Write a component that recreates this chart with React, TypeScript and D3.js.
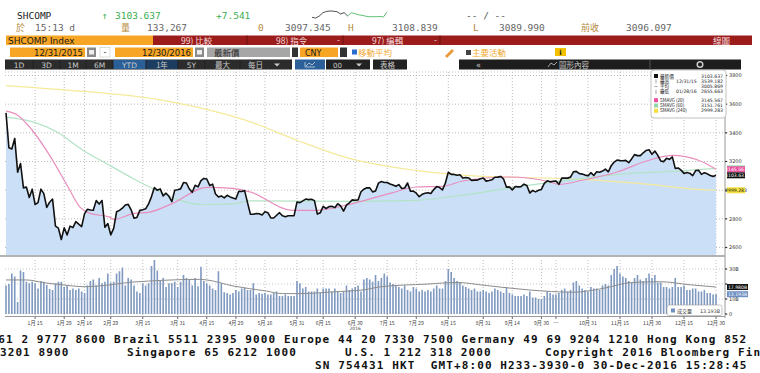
import * as d3 from 'd3';

const pad = (n: number) => String(n).padStart(2, '0');

// trading sessions of 2016 (day of month, per month)
const sessionDays: number[][] = [
  [4, 5, 6, 7, 8, 11, 12, 13, 14, 15, 18, 19, 20, 21, 22, 25, 26, 27, 28, 29],
  [1, 2, 3, 4, 5, 15, 16, 17, 18, 19, 22, 23, 24, 25, 26, 29],
  [1, 2, 3, 4, 7, 8, 9, 10, 11, 14, 15, 16, 17, 18, 21, 22, 23, 24, 25, 28, 29, 30, 31],
  [1, 5, 6, 7, 8, 11, 12, 13, 14, 15, 18, 19, 20, 21, 22, 25, 26, 27, 28, 29],
  [3, 4, 5, 6, 9, 10, 11, 12, 13, 16, 17, 18, 19, 20, 23, 24, 25, 26, 27, 30, 31],
  [1, 2, 3, 6, 7, 8, 13, 14, 15, 16, 17, 20, 21, 22, 23, 24, 27, 28, 29, 30],
  [1, 4, 5, 6, 7, 8, 11, 12, 13, 14, 15, 18, 19, 20, 21, 22, 25, 26, 27, 28, 29],
  [1, 2, 3, 4, 5, 8, 9, 10, 11, 12, 15, 16, 17, 18, 19, 22, 23, 24, 25, 26, 29, 30, 31],
  [1, 2, 5, 6, 7, 8, 9, 12, 13, 14, 19, 20, 21, 22, 23, 26, 27, 28, 29, 30],
  [10, 11, 12, 13, 14, 17, 18, 19, 20, 21, 24, 25, 26, 27, 28, 31],
  [1, 2, 3, 4, 7, 8, 9, 10, 11, 14, 15, 16, 17, 18, 21, 22, 23, 24, 25, 28, 29, 30],
  [1, 2, 5, 6, 7, 8, 9, 12, 13, 14, 15, 16, 19, 20, 21, 22, 23, 26, 27, 28, 29, 30],
];
const tradingDates = [
  '2015-12-31',
  ...sessionDays.flatMap((days, m) => days.map(d => `2016-${pad(m + 1)}-${pad(d)}`)),
];

const closes = [
  3539.2,
  3296, 3287, 3361, 3125, 3186, 3016, 3022, 2949, 3007, 2900, 2913, 3007, 2976, 2880, 2916, 2938, 2749, 2735, 2655.7, 2737,
  2688, 2749, 2739, 2781, 2763, 2746, 2836, 2867, 2862, 2860, 2927, 2903, 2928, 2741, 2767, 2688,
  2733, 2849, 2859, 2874, 2897, 2901, 2863, 2804, 2810, 2859, 2864, 2870, 2904, 2955, 3018, 2999, 3009, 2960, 2979, 2957, 2920, 3000, 3003,
  3009, 3053, 3050, 3008, 2985, 3034, 3023, 3066, 3082, 3078, 3033, 3042, 2973, 2953, 2960, 2946, 2964, 2953, 2945, 2938,
  2992, 2991, 2997, 2913, 2832, 2832, 2837, 2835, 2827, 2850, 2843, 2807, 2806, 2825, 2843, 2821, 2815, 2822, 2822, 2822, 2917,
  2913, 2925, 2938, 2934, 2937, 2927, 2833, 2842, 2887, 2872, 2885, 2888, 2878, 2905, 2891, 2854, 2895, 2912, 2932, 2930,
  2932, 2989, 3007, 3017, 3016, 2988, 2994, 3049, 3060, 3054, 3054, 3043, 3036, 3027, 3039, 3012, 3015, 3050, 2992, 2994, 2979,
  2954, 2971, 2978, 2982, 2977, 3004, 3025, 3018, 3002, 3050, 3125, 3110, 3110, 3104, 3108, 3085, 3089, 3085, 3068, 3070, 3070, 3080, 3085,
  3063, 3067, 3072, 3090, 3091, 3096, 3078, 3021, 3023, 3002, 3026, 3023, 3025, 3042, 3033, 2980, 2998, 2988, 2999, 3005,
  3048, 3065, 3058, 3062, 3064, 3041, 3084, 3085, 3084, 3091, 3128, 3131, 3116, 3112, 3105, 3100,
  3122, 3102, 3128, 3125, 3133, 3147, 3128, 3171, 3196, 3210, 3206, 3205, 3208, 3192, 3218, 3248, 3241, 3241, 3261, 3277, 3282, 3250,
  3273, 3243, 3204, 3199, 3222, 3215, 3232, 3152, 3155, 3140, 3117, 3123, 3118, 3102, 3137, 3139, 3110, 3122, 3114, 3102, 3096.1, 3103.6,
];

// daily volume, billions of shares
const volumes = [
  19, 20, 27, 25, 8, 29, 28, 21.5, 20.5, 21.5, 20.5, 17, 22, 21.5, 19.3, 16.7, 16, 20.5, 21.5, 21.5,
  18, 19, 16, 17, 16, 17, 15, 14, 19, 22, 23, 19, 24, 20.5, 21.5, 27, 21, 21.5,
  27, 28.5, 31, 19, 24, 23, 19, 15, 14, 20.5, 19, 20.5,
  32, 36, 29, 22, 24, 18, 20.5, 20.5, 21.5, 18, 21.5, 26, 24, 23, 19, 24, 18.5, 31.5, 22, 20.5,
  19, 17, 16, 28.5, 20.5, 14.5, 14, 13, 14, 16, 15, 17, 17.5, 16, 16, 20.5, 13, 14, 13.5, 14,
  13, 13, 14, 15, 12, 12, 13, 12, 12, 12,
  22, 20.5, 17, 18, 15, 15, 15, 17, 14, 17, 17, 17, 15, 17, 15, 14, 15, 19, 16, 17, 18, 19, 15, 23, 24, 23, 21.5, 26,
  22, 24, 27, 25, 21, 20, 19, 18, 17, 19, 16, 15, 18, 17,
  15, 16, 15, 16, 15, 17, 19, 17, 17, 22, 30, 28, 24, 22, 21, 19, 18, 17, 16, 17, 15, 15, 16,
  15, 14, 15, 17, 16, 15, 14, 18, 14, 13, 12, 12, 12, 13, 12, 15, 11, 11, 10, 10,
  12, 15, 14, 13, 13, 14, 16, 17, 15, 16, 21, 22, 19, 17, 16, 15,
  18, 17, 17, 16, 19, 20, 19, 26, 30, 32, 27, 25, 24, 22, 21, 24, 26, 23, 22, 24, 27, 24,
  26, 21, 21, 18, 18, 17, 18, 24, 18, 18, 19, 16, 16, 17, 17, 15, 15, 16, 14, 14, 13, 13.19,
];

// moving averages: [session index, value]
const sma20: [number, number][] = [
  [0, 3551], [4, 3523], [9, 3418], [15, 3243], [21, 3034], [25.4, 2882], [28.8, 2838], [35.7, 2812], [37, 2795],
  [43.6, 2836], [49.4, 2847], [57.3, 2908], [69, 3020], [78, 3013], [84, 2987], [98.5, 2859], [106.7, 2859],
  [118, 2901], [132, 2978], [141, 3022], [150, 3027], [157, 3064], [173, 3092], [187, 3057], [190, 3040],
  [198, 3069], [210, 3127], [221, 3209], [229, 3243], [238, 3209], [244, 3145.6],
];
const sma60: [number, number][] = [
  [0, 3509], [9.3, 3476], [17.5, 3406], [26.4, 3279], [35.7, 3173], [43.6, 3082], [51.8, 2998], [59.7, 2929],
  [66.6, 2900], [78, 2904], [84, 2925], [118, 2922], [141, 2929], [155, 2960], [175, 3020], [198, 3082],
  [215, 3117], [232, 3135], [244, 3151.8],
];
const sma240: [number, number][] = [
  [0, 3730], [20, 3700], [54, 3626], [84, 3476], [100, 3348], [118, 3222], [141, 3138], [164, 3096],
  [187, 3084], [198, 3075], [221, 3040], [238, 3005], [244, 2999.3],
];
const volumeAvg: [number, number][] = [
  [0, 22.7], [7, 22.7], [13, 20.9], [21, 19.1], [26.5, 18.2], [32, 18.7], [43.6, 21.3], [49.4, 22], [66.6, 23.1],
  [69, 22.7], [78, 18.7], [89.5, 15.3], [95, 13.6], [101, 13.6], [112, 14.7], [124, 16.4], [128, 18], [145, 20],
  [155, 21], [165, 19], [180, 16], [195, 14.5], [205, 17], [215, 21], [225, 21.5], [235, 19.5], [244, 17.98],
];

const priceTicks = [2600, 2800, 3000, 3200, 3400, 3600, 3800];
// 3000 and 20B sit behind the last-value tags, so they get no label
const priceTickLabels = ['2600', '2800', '', '3200', '3400', '3600', '3800'];
const volumeTicks = [0, 10, 20, 30];
const volumeTickLabels = ['0', '10B', '', '30B'];

const axisDates = [
  '2016-01-15', '2016-01-29', '2016-02-16', '2016-02-29', '2016-03-15', '2016-03-31', '2016-04-15', '2016-04-29',
  '2016-05-16', '2016-05-31', '2016-06-15', '2016-06-30', '2016-07-15', '2016-07-29', '2016-08-15', '2016-08-31',
  '2016-09-14', '2016-09-30', '2016-10-14', '2016-10-31', '2016-11-15', '2016-11-30', '2016-12-15', '2016-12-30',
];
const axisLabels = [
  '1月 15', '1月 29', '2月 16', '2月 29', '3月 15', '3月 31', '4月 15', '4月 29', '5月 16', '5月 31', '6月 15', '6月 30',
  '7月 15', '7月 29', '8月 15', '8月 31', '9月 14', '9月 30', '…', '10月 31', '11月 15', '11月 30', '12月 15', '12月 30',
];

const legendRows = [
  { mark: 'sq', color: '#111', label: '最新價', date: '', value: '3103.637' },
  { mark: 'bar', color: '#666', label: '最高', date: '12/31/15', value: '3539.182' },
  { mark: 'dash', color: '#666', label: '平均', date: '', value: '3005.869' },
  { mark: 'bar', color: '#666', label: '最低', date: '01/28/16', value: '2655.663' },
  { mark: 'sq', color: '#ec4fa0', label: 'SMAVG (20)', date: '', value: '3145.567' },
  { mark: 'sq', color: '#8fd9a8', label: 'SMAVG (60)', date: '', value: '3151.761' },
  { mark: 'sq', color: '#f5e13c', label: 'SMAVG (240)', date: '', value: '2999.283' },
];

const sparkPrices = [
  3093.9, 3092.5, 3096, 3102, 3104.5, 3105.4, 3105, 3104.1, 3100, 3102.3, 3096.3,
  3102.3, 3100.5, 3098.5, 3097.5, 3096, 3095, 3095, 3095, 3095.5, 3094.5, 3103.5,
];

const rangeButtons = ['1D', '3D', '1M', '6M', 'YTD', '1年', '5Y', '最大'];

const footerLines = [
  'Australia 61 2 9777 8600 Brazil 5511 2395 9000 Europe 44 20 7330 7500 Germany 49 69 9204 1210 Hong Kong 852',
  'SN 754431 HKT  GMT+8:00 H233-3930-0 30-Dec-2016 15:28:45',
];

const mono = '"DejaVu Sans Mono", monospace';
const cjk = '"Noto Sans CJK TC", "DejaVu Sans", sans-serif';
const sans = '"DejaVu Sans", "Noto Sans CJK TC", sans-serif';
const nbsp = (s: string) => s.replace(/ /g, '\u00a0');

export default function App() {
  const n = tradingDates.length;
  const x = d3.scaleLinear().domain([0, n - 1]).range([6, 716]);
  const y = d3.scaleLinear().domain([2600, 3800]).range([247.5, 75.5]);
  const yv = d3.scaleLinear().domain([0, 30]).range([314, 269]);

  const area = d3.area<number>().x((_, i) => x(i)).y0(255).y1(d => y(d));
  const line = d3.line<number>().x((_, i) => x(i)).y(d => y(d));
  const maLine = d3.line<[number, number]>().x(d => x(d[0])).y(d => y(d[1])).curve(d3.curveMonotoneX);
  const volLine = d3.line<[number, number]>().x(d => x(d[0])).y(d => yv(d[1])).curve(d3.curveMonotoneX);

  const sx = d3.scaleLinear().domain([0, sparkPrices.length - 1]).range([312, 387]);
  const sy = d3.scaleLinear().domain([3089, 3109]).range([20, 9]);
  const spark = d3.line<number>().x((_, i) => sx(i)).y(d => sy(d));
  const sparkSplit = 10;

  const tickX = axisDates.map(d => x(tradingDates.indexOf(d)));

  const headerGray = '#666';
  const brown = '#b58a3c';
  const green = '#3aae4f';

  const btnX = [5, 33, 60, 86, 113, 146, 178, 205, 240];

  return (
    <svg width={760} height={373} style={{ position: 'fixed', left: 0, top: 0, background: '#fff' }}>
      <rect width={760} height={373} fill="#fff" />

      {/* quote header */}
      <g fontFamily={mono} fontSize={9.5}>
        <text x={17} y={19} fill="#222">SHCOMP</text>
        <text x={102} y={19} fill={green}>↑</text>
        <text x={115} y={19} fill={green}>3103.637</text>
        <text x={216} y={19} fill={green}>+7.541</text>
        <path d={spark(sparkPrices.slice(0, sparkSplit + 1)) ?? ''} fill="none" stroke="#222" strokeWidth={0.8} />
        <path
          d={d3.line<number>().x((_, i) => sx(i + sparkSplit)).y(d => sy(d))(sparkPrices.slice(sparkSplit)) ?? ''}
          fill="none" stroke={green} strokeWidth={0.8}
        />
        <text x={466} y={19} fill="#555">-- / --</text>

        <text x={16} y={31} fill={brown} fontFamily={cjk} fontSize={9}>於</text>
        <text x={35} y={31} fill={headerGray}>15:13 d</text>
        <text x={121} y={31} fill={brown} fontFamily={cjk} fontSize={9}>量</text>
        <text x={147} y={31} fill={headerGray}>133,267</text>
        <text x={258} y={31} fill={brown}>0</text>
        <text x={285} y={31} fill={headerGray}>3097.345</text>
        <text x={348} y={31} fill={brown}>H</text>
        <text x={392} y={31} fill={headerGray}>3108.839</text>
        <text x={473} y={31} fill={brown}>L</text>
        <text x={499} y={31} fill={headerGray}>3089.990</text>
        <text x={581} y={31} fill={brown} fontFamily={cjk} fontSize={9}>前收</text>
        <text x={626} y={31} fill={headerGray}>3096.097</text>
      </g>

      {/* command bar */}
      <rect x={6} y={35.5} width={147} height={9.5} fill="#f6a524" />
      <text x={8} y={43.5} fontFamily={sans} fontSize={9} fill="#1a1a1a">SHCOMP Index</text>
      <rect x={153} y={35.5} width={599} height={9.5} fill="#9c1c1c" />
      <line x1={247} x2={247} y1={35.5} y2={45} stroke="#6e1010" />
      <line x1={343} x2={343} y1={35.5} y2={45} stroke="#6e1010" />
      <line x1={440} x2={440} y1={35.5} y2={45} stroke="#6e1010" />
      <g fontFamily={cjk} fontSize={8.5} fill="#f2dede">
        <text x={181} y={43.5}>99) 比較</text>
        <text x={276} y={43.5}>98) 指令</text>
        <text x={337} y={43}>-</text>
        <text x={372} y={43.5}>97) 編輯</text>
        <text x={434} y={43}>-</text>
        <text x={713} y={43.5}>線圖</text>
      </g>

      {/* date / field row */}
      <rect x={10} y={47.5} width={75} height={9.5} fill="#f6a524" />
      <text x={83} y={55.5} textAnchor="end" fontFamily={sans} fontSize={8.5} fill="#1a1a1a">12/31/2015</text>
      <rect x={87} y={47.5} width={9} height={9.5} fill="#8a8a8a" />
      <rect x={89} y={50} width={5} height={4.5} fill="#eee" />
      <rect x={100} y={47.5} width={10} height={9.5} fill="#fff" stroke="#bbb" strokeWidth={0.5} />
      <text x={105} y={55} textAnchor="middle" fontFamily={sans} fontSize={8} fill="#333">-</text>
      <rect x={115} y={47.5} width={78} height={9.5} fill="#f6a524" />
      <text x={191} y={55.5} textAnchor="end" fontFamily={sans} fontSize={8.5} fill="#1a1a1a">12/30/2016</text>
      <rect x={195} y={47.5} width={9} height={9.5} fill="#8a8a8a" />
      <rect x={197} y={50} width={5} height={4.5} fill="#eee" />
      <rect x={207} y={47.5} width={83} height={9.5} fill="#a6a6a6" />
      <text x={214} y={55.5} fontFamily={cjk} fontSize={8.5} fill="#2a2a2a">最新價</text>
      <rect x={292} y={47.5} width={6} height={9.5} fill="#333" />
      <rect x={300} y={47.5} width={38} height={9.5} fill="#f6a524" />
      <text x={305} y={55.5} fontFamily={sans} fontSize={8} fill="#1a1a1a">CNY</text>
      <rect x={340} y={47.5} width={7} height={9.5} fill="#333" />
      <rect x={352} y={49.5} width={5} height={5} fill="#2a6fd0" />
      <text x={358} y={55.5} fontFamily={cjk} fontSize={8.5} fill="#f0a830">移動平均</text>
      <path d="M445,56 L452,49 L454,51 L447,58 Z" fill="#e89a3a" />
      <rect x={466} y={50} width={5} height={5} fill="#444" />
      <text x={472} y={55.5} fontFamily={cjk} fontSize={8.5} fill="#f0a830">主要活動</text>
      <rect x={555} y={48} width={11} height={8} fill="#f2c200" />
      <text x={560.5} y={55} textAnchor="middle" fontFamily={sans} fontSize={7} fontWeight="bold" fill="#222">i</text>

      {/* range buttons */}
      <rect x={5} y={59.5} width={287} height={10} fill="#202020" />
      {rangeButtons.map((b, i) => (
        <g key={b}>
          <rect
            x={btnX[i] + 0.5} y={60} width={btnX[i + 1] - btnX[i] - 1} height={9}
            fill={b === 'YTD' ? '#2b5f97' : b === '1年' ? '#1d3d60' : '#2c2c2c'}
          />
          <text
            x={(btnX[i] + btnX[i + 1]) / 2} y={67.5} textAnchor="middle"
            fontFamily={b.match(/[年最]/) ? cjk : sans} fontSize={7.5} fill="#c9c9c9"
          >{b}</text>
        </g>
      ))}
      <rect x={240.5} y={60} width={51} height={9} fill="#2c2c2c" />
      <text x={248} y={67.5} fontFamily={cjk} fontSize={7.5} fill="#c9c9c9">每日</text>
      <path d="M274,63.5 L280,63.5 L277,66.5 Z" fill="#c9c9c9" />
      <rect x={295} y={59.5} width={30} height={10} fill="#2b5f97" />
      <path d="M305,62 L305,67 L315,67 M306,66 L309,63 L312,65 L315,62" fill="none" stroke="#cfd8e6" strokeWidth={0.8} />
      <rect x={326} y={59.5} width={44} height={10} fill="#222" />
      <text x={333} y={67.5} fontFamily={sans} fontSize={7} fill="#c9c9c9">00</text>
      <path d="M356,63.5 L362,63.5 L359,66.5 Z" fill="#c9c9c9" />
      <rect x={373} y={59.5} width={34} height={10} fill="#222" />
      <text x={380} y={67.5} fontFamily={cjk} fontSize={7.5} fill="#c9c9c9">表格</text>
      <rect x={459} y={59.5} width={282} height={10} fill="#1d1d1d" />
      <line x1={650} x2={650} y1={59.5} y2={69.5} stroke="#555" />
      <text x={476} y={67.5} fontFamily={sans} fontSize={8} fill="#c9c9c9">«</text>
      <path d="M548,67 L551,63 L554,65 L557,62" fill="none" stroke="#c9c9c9" strokeWidth={0.8} />
      <text x={559} y={67.5} fontFamily={cjk} fontSize={7.5} fill="#c9c9c9">圖形內容</text>
      <circle cx={700} cy={64.5} r={2.8} fill="none" stroke="#c9c9c9" strokeWidth={1.5} />

      {/* price panel grid */}
      <line x1={5} x2={725} y1={72} y2={72} stroke="#ccc" strokeDasharray="1,2" />
      {priceTicks.map(t => (
        <line key={t} x1={5} x2={725} y1={y(t)} y2={y(t)} stroke="#bcbcbc" strokeDasharray="1,2" />
      ))}
      {tickX.map((tx, i) => (
        <g key={i}>
          <line x1={tx} x2={tx} y1={72} y2={255} stroke="#bcbcbc" strokeDasharray="1,2" />
          <line x1={tx} x2={tx} y1={260} y2={316} stroke="#bcbcbc" strokeDasharray="1,2" />
        </g>
      ))}

      <path d={area(closes) ?? ''} fill="#cbe0f7" />
      <path d={maLine(sma240) ?? ''} fill="none" stroke="#f4ea9a" strokeWidth={1.2} />
      <path d={maLine(sma60) ?? ''} fill="none" stroke="#b3e3c6" strokeWidth={1.2} />
      <path d={maLine(sma20) ?? ''} fill="none" stroke="#e98dbd" strokeWidth={1.2} />
      <path d={line(closes) ?? ''} fill="none" stroke="#111" strokeWidth={1.6} strokeLinejoin="round" />

      {/* right axes */}
      <line x1={725} x2={725} y1={72} y2={318} stroke="#9a9a9a" />
      <g fontFamily={sans} fontSize={5} fill="#333">
        {priceTicks.map((t, i) => (
          <g key={t}>
            <rect x={725} y={y(t) - 0.6} width={2.2} height={1.2} fill="#333" />
            {priceTickLabels[i] && <text x={729} y={y(t) + 1.8}>{priceTickLabels[i]}</text>}
          </g>
        ))}
        {volumeTicks.map((t, i) => (
          <g key={t}>
            {t > 0 && <line x1={5} x2={725} y1={yv(t)} y2={yv(t)} stroke="#c8c8c8" strokeDasharray="1,2" />}
            <rect x={725} y={yv(t) - 0.6} width={2.2} height={1.2} fill="#333" />
            {volumeTickLabels[i] && <text x={729} y={yv(t) + 1.8}>{volumeTickLabels[i]}</text>}
          </g>
        ))}
      </g>

      {/* last value tags */}
      {[
        { v: 3151.761, bg: '#8fd9a8', fg: '#fff' },
        { v: 3145.567, bg: '#ec4fa0', fg: '#fff' },
        { v: 3103.637, bg: '#111', fg: '#fff' },
        { v: 2999.283, bg: '#f5e13c', fg: '#222' },
      ].map(t => (
        <g key={t.v}>
          <rect x={727} y={y(t.v) - 3} width={18} height={6} fill={t.bg} />
          {t.v !== 3151.761 && (
            <text x={736} y={y(t.v) + 1.8} textAnchor="middle" fontFamily={sans} fontSize={4.6} fill={t.fg}>
              {t.v.toFixed(3)}
            </text>
          )}
        </g>
      ))}

      {/* panel separator */}
      <line x1={0} x2={725} y1={256} y2={256} stroke="#9a9a9a" strokeWidth={1.5} />

      {/* volume */}
      {volumes.map((v, i) => (
        <rect key={i} x={x(i) - 0.8} y={yv(v)} width={1.6} height={yv(0) - yv(v)} fill="#7f99c0" />
      ))}
      <path d={volLine(volumeAvg) ?? ''} fill="none" stroke="#8c8c8c" strokeWidth={1} />
      <rect x={727} y={yv(17.98) - 3} width={21} height={6} fill="#111" />
      <text x={737.5} y={yv(17.98) + 1.8} textAnchor="middle" fontFamily={sans} fontSize={4.6} fill="#fff">17.980B</text>
      <rect x={727} y={yv(13.193) - 3} width={21} height={6} fill="#6d8fc2" />
      <text x={737.5} y={yv(13.193) + 1.8} textAnchor="middle" fontFamily={sans} fontSize={4.6} fill="#fff">13.193B</text>

      <rect x={667} y={305} width={55} height={10.5} rx={2} fill="#fff" stroke="#a0a0a0" strokeWidth={0.6} />
      <rect x={671} y={308.5} width={4} height={4} fill="#6d8fc2" />
      <text x={677} y={312.5} fontFamily={cjk} fontSize={5} fill="#333">成交量</text>
      <text x={720} y={312.5} textAnchor="end" fontFamily={sans} fontSize={4.8} fill="#333">13.193B</text>

      {/* x axis */}
      <line x1={5} x2={725} y1={316.5} y2={316.5} stroke="#9a9a9a" />
      {tickX.map((tx, i) => (
        <g key={i}>
          <line x1={tx} x2={tx} y1={316.5} y2={319} stroke="#666" />
          <text x={tx} y={325} textAnchor="middle" fontFamily={cjk} fontSize={5.2} fill="#444">{axisLabels[i]}</text>
        </g>
      ))}
      <text x={tickX[11]} y={330} textAnchor="middle" fontFamily={sans} fontSize={4.5} fill="#444">2016</text>

      {/* legend */}
      <rect x={651} y={70} width={75} height={48} rx={3} fill="#fff" stroke="#a8a8a8" strokeWidth={0.7} />
      {legendRows.map((r, i) => {
        const ry = 77.5 + i * 5.3 + (i >= 4 ? 3 : 0);
        return (
          <g key={r.label} fontSize={4.6}>
            {r.mark === 'sq' && <rect x={654} y={ry - 3.5} width={4} height={4} fill={r.color} />}
            {r.mark === 'bar' && <line x1={656} x2={656} y1={ry - 3.5} y2={ry + 0.5} stroke={r.color} strokeWidth={0.6} />}
            {r.mark === 'dash' && <line x1={654.5} x2={657.5} y1={ry - 1.5} y2={ry - 1.5} stroke={r.color} strokeWidth={0.6} />}
            <text x={660} y={ry} fontFamily={cjk} fill="#222">{r.label}</text>
            {r.date && <text x={676} y={ry} fontFamily={sans} fill="#222">{r.date}</text>}
            <text x={723} y={ry} textAnchor="end" fontFamily={sans} fill="#222">{r.value}</text>
          </g>
        );
      })}

      {/* terminal footer */}
      <g fontFamily={mono} fontSize={11} fontWeight="bold" fill="#111" letterSpacing={1.1}>
        <text x={-79} y={343}>{nbsp(footerLines[0])}</text>
        <text x={-85} y={356}>{nbsp('Japan 81 3 3201 8900')}</text>
        <text x={127} y={356}>{nbsp('Singapore 65 6212 1000')}</text>
        <text x={345} y={356}>{nbsp('U.S. 1 212 318 2000')}</text>
        <text x={545} y={356}>{nbsp('Copyright 2016 Bloomberg Finance L.P.')}</text>
        <text x={315} y={369}>{nbsp(footerLines[1])}</text>
      </g>
    </svg>
  );
}
